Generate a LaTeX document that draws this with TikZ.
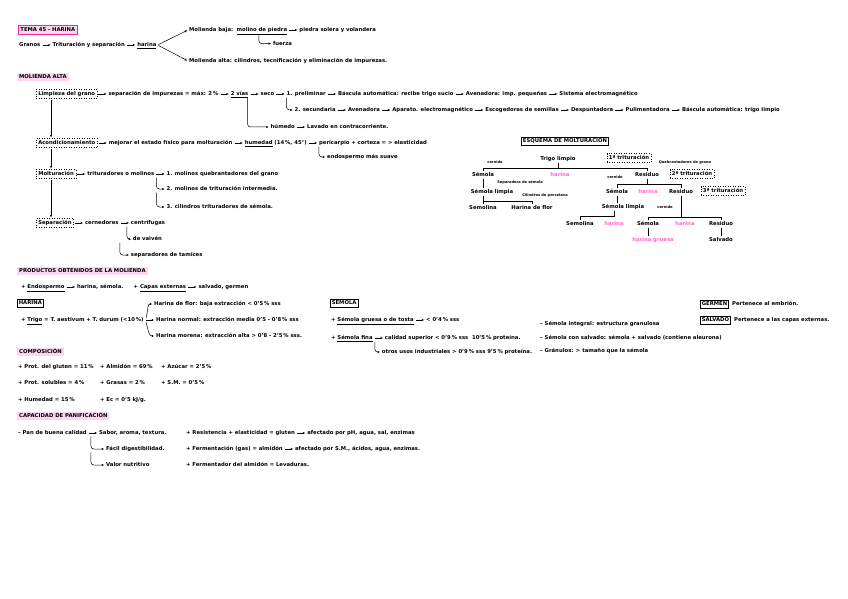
\documentclass[tikz,border=0pt]{standalone}
\usepackage{fontspec}
\setmainfont{DejaVu Sans}
\usetikzlibrary{arrows.meta,positioning,calc}
\definecolor{hlpink}{RGB}{252,214,238}
\definecolor{rimpink}{RGB}{238,40,160}
\definecolor{flour}{RGB}{255,105,200}

\begin{document}
\begin{tikzpicture}[x=1pt,y=-1pt,>=Stealth,node distance=10pt,
  txt/.style={font=\fontsize{5.3}{6}\selectfont\bfseries,inner sep=1pt,
              text height=3.9pt,text depth=1pt,anchor=west},
  cell/.style={txt,anchor=center},
  flourtxt/.style={cell,text=flour},
  tiny/.style={font=\fontsize{3.6}{4}\selectfont\bfseries,inner sep=0.5pt},
  head/.style={txt,fill=hlpink,inner sep=2pt},
  title/.style={head,draw=rimpink,line width=0.8pt},
  stagebox/.style={txt,draw,dotted,line width=0.5pt,inner sep=2pt},
  tagbox/.style={txt,draw,line width=0.6pt,inner sep=1.5pt},
  arr/.style={->,line width=0.5pt,shorten >=1pt,shorten <=1pt,
              >={Stealth[length=2.5pt,width=2.2pt]}},
  hook/.style={arr,shorten <=0pt,rounded corners=3pt},
  link/.style={line width=0.6pt}]
  \fill[white] (0,0) rectangle (848,599);
  \useasboundingbox (0,0) rectangle (848,599);

  % tema
  \node[title] (tema) at (18,30) {TEMA 45 - HARINA};
  \node[txt] (granos) at (18,45) {Granos};
  \node[txt,right=of granos] (trit) {Trituración y separación};
  \node[txt,right=of trit] (harina) {\underline{harina}};
  \node[txt] (mbaja) at (188,30) {Molienda baja:};
  \node[txt,right=1pt of mbaja] (mpiedra) {\underline{molino de piedra}};
  \node[txt,right=of mpiedra] (solera) {piedra solera y volandera};
  \node[txt] (fuerza) at ($(mpiedra.south)+(10,10)$) {fuerza};
  \node[txt] (malta) at (188,61) {Molienda alta: cilindros, tecnificación y eliminación de impurezas.};
  \draw[arr] (granos) -- (trit);
  \draw[arr] (trit) -- (harina);
  \draw[arr] (harina.east) -- (mbaja.west);
  \draw[arr] (harina.east) -- (malta.west);
  \draw[arr] (mpiedra) -- (solera);
  \draw[hook] ($(mpiedra.south)+(-3,0)$) |- (fuerza.west);

  % molienda alta
  \node[head] (malt) at (17,77) {MOLIENDA ALTA};
  \node[stagebox] (limp) at (36,94) {Limpieza del grano};
  \node[txt,right=of limp] (impur) {separación de impurezas = máx: 2\,\%};
  \node[txt,right=of impur] (vias) {\underline{2 vías}};
  \node[txt,right=of vias] (seco) {seco};
  \node[txt,right=of seco] (prel) {1. preliminar};
  \node[txt,right=of prel] (bas1) {Báscula automática: recibe trigo sucio};
  \node[txt,right=of bas1] (aven1) {Avenadora: imp. pequeñas};
  \node[txt,right=of aven1] (elec1) {Sistema electromagnético};
  \foreach \a/\b in {limp/impur,impur/vias,vias/seco,seco/prel,prel/bas1,bas1/aven1,aven1/elec1}
    \draw[arr] (\a) -- (\b);
  \node[txt] (secun) at ($(prel.west)+(8,16)$) {2. secundaria};
  \node[txt,right=of secun] (aven2) {Avenadora};
  \node[txt,right=of aven2] (apar) {Aparato. electromagnético};
  \node[txt,right=of apar] (escog) {Escogedoras de semillas};
  \node[txt,right=of escog] (desp) {Despuntadora};
  \node[txt,right=of desp] (pulim) {Pulimentadora};
  \node[txt,right=of pulim] (bas2) {Báscula automática: trigo limpio};
  \foreach \a/\b in {secun/aven2,aven2/apar,apar/escog,escog/desp,desp/pulim,pulim/bas2}
    \draw[arr] (\a) -- (\b);
  \draw[hook] ($(prel.south west)+(1,0)$) |- (secun.west);
  \node[txt] (humedo) at ($(vias.east)+(20,33)$) {húmedo};
  \node[txt,right=of humedo] (lavado) {Lavado en contracorriente.};
  \draw[arr] (humedo) -- (lavado);
  \draw[hook] ($(vias.south east)+(-2,0)$) |- (humedo.west);

  \node[stagebox] (acond) at (36,143) {Acondicionamiento};
  \node[txt,right=of acond] (mejor) {mejorar el estado físico para molturación};
  \node[txt,right=of mejor] (humed) {\underline{humedad} (14\,\%, 45°)};
  \node[txt,right=of humed] (peri) {pericarpio + corteza = > elasticidad};
  \node[txt] (endo) at ($(peri.west)+(8,14)$) {endospermo más suave};
  \foreach \a/\b in {acond/mejor,mejor/humed,humed/peri}
    \draw[arr] (\a) -- (\b);
  \draw[hook] ($(peri.south west)+(1,0)$) |- (endo.west);

  \node[stagebox] (moltu) at (36,174) {Molturación};
  \node[txt,right=of moltu] (tritu) {trituradores o molinos};
  \node[txt,right=of tritu] (mol1) {1. molinos quebrantadores del grano};
  \node[txt] (mol2) at ($(mol1.west)+(0,15)$) {2. molinos de trituración intermedia.};
  \node[txt] (mol3) at ($(mol2.west)+(0,18)$) {3. cilindros trituradores de sémola.};
  \draw[arr] (moltu) -- (tritu);
  \draw[arr] (tritu) -- (mol1);
  \draw[hook] ($(tritu.south east)+(1,0)$) |- (mol2.west);
  \draw[hook] ($(tritu.south east)+(1,15)$) |- (mol3.west);

  \node[stagebox] (separ) at (36,223) {Separación};
  \node[txt,right=of separ] (cerne) {cernedores};
  \node[txt,right=of cerne] (centr) {centrífugas};
  \node[txt] (vaiven) at ($(centr.west)+(2,16)$) {de vaivén};
  \node[txt] (tamic) at ($(cerne.east)+(10,32)$) {separadores de tamices};
  \draw[arr] (separ) -- (cerne);
  \draw[arr] (cerne) -- (centr);
  \draw[hook] ($(centr.south west)+(-3,0)$) |- (vaiven.west);
  \draw[hook] ($(vaiven.south west)+(-12,0)$) |- (tamic.west);

  \draw[arr] ($(limp.south west)+(15,0)$) -- ($(acond.north west)+(15,0)$);
  \draw[arr] ($(acond.south west)+(15,0)$) -- ($(moltu.north west)+(15,0)$);
  \draw[arr] ($(moltu.south west)+(15,0)$) -- ($(separ.north west)+(15,0)$);

  % esquema de molturacion
  \node[tagbox,anchor=center] (esq) at (565,141) {ESQUEMA DE MOLTURACIÓN};
  \node[cell] (tlimp) at (558,159) {Trigo limpio};
  \node[stagebox,anchor=center] (trit1) at (629,158) {1ª trituración};
  \node[tiny] (cern1) at (495,162) {cernido};
  \node[cell] (sem1) at (483,175) {Sémola};
  \node[flourtxt] (har1) at (560,175) {harina};
  \node[cell] (res1) at (647,175) {Residuo};
  \node[tiny] (quebr) at (685,163) {Quebrantadores de grano};
  \node[stagebox,anchor=center] (trit2) at (692,174) {2ª trituración};
  \node[tiny] (sepse) at (520,182) {Separadora de sémola};
  \node[cell] (seml1) at (492,192) {Sémola limpia};
  \node[tiny] (cilin) at (545,196) {Cilindros de porcelana};
  \node[cell] (semo1) at (483,208) {Semolina};
  \node[cell] (hflor) at (532,208) {Harina de flor};
  \node[tiny] (cern2) at (615,177) {cernido};
  \node[cell] (sem2) at (617,192) {Sémola};
  \node[flourtxt] (har2) at (648,192) {harina};
  \node[cell] (res2) at (681,192) {Residuo};
  \node[stagebox,anchor=center] (trit3) at (723,191) {3ª trituración};
  \node[cell] (seml2) at (623,207) {Sémola limpia};
  \node[tiny] (cern3) at (665,207) {cernido};
  \node[cell] (semo2) at (580,224) {Semolina};
  \node[flourtxt] (har3) at (614,224) {harina};
  \node[cell] (sem3) at (648,224) {Sémola};
  \node[flourtxt] (har4) at (685,224) {harina};
  \node[cell] (res3) at (721,224) {Residuo};
  \node[flourtxt] (hgru) at (653,240) {harina gruesa};
  \node[cell] (salv) at (721,240) {Salvado};

  \draw[link] (tlimp.south) -- ++(0,6);
  \draw[link] (sem1.north) |- ($(tlimp.south)+(0,6)$) -| (res1.north);
  \draw[link] (sem1.south) -- (sem1.south |- seml1.north);
  \draw[link] (seml1.south -| semo1.north) -- (semo1.north);
  \draw[link] ($(semo1.north)+(0,-3)$) -| (hflor.north);
  \draw[link] (res1.south) -- ++(0,6);
  \draw[link] (sem2.north) |- ($(res1.south)+(0,6)$) -| (res2.north);
  \draw[link] (sem2.south) -- (sem2.south |- seml2.north);
  \draw[link] (seml2.south -| har3.north) -- ++(0,6) -| (semo2.north);
  \draw[link] (res2.south) -- ($(res2.south |- har4.north)+(0,-3)$);
  \draw[link] (sem3.north) |- ($(res2.south |- har4.north)+(0,-3)$) -| (res3.north);
  \draw[link] (sem3.south) -- (sem3.south |- hgru.north);
  \draw[link] (res3.south) -- (salv.north);

  % productos
  \node[head] (prod) at (17,271) {PRODUCTOS OBTENIDOS DE LA MOLIENDA};
  \node[txt] (endosp) at (20,287) {+ \underline{Endospermo}};
  \node[txt,right=of endosp] (harsem) {harina, sémola.};
  \node[txt,right=8pt of harsem] (capas) {+ \underline{Capas externas}};
  \node[txt,right=of capas] (salger) {salvado, germen};
  \draw[arr] (endosp) -- (harsem);
  \draw[arr] (capas) -- (salger);

  \node[tagbox] (hartag) at (17,303) {HARINA};
  \node[txt] (trigo) at (20,320) {+ \underline{Trigo} = T. aestivum + T. durum (<10\,\%)};
  \node[txt] (hflor2) at (153,304) {Harina de flor: baja extracción < 0'5\,\% sss};
  \node[txt] (hnorm) at (155,320) {Harina normal: extracción media 0'5 - 0'8\,\% sss};
  \node[txt] (hmor) at (155,336) {Harina morena: extracción alta > 0'8 - 2'5\,\% sss.};
  \draw[arr] ($(trigo.east)+(1,-1)$) .. controls +(3,-12) and +(-6,0) .. (hflor2.west);
  \draw[arr] (trigo) -- (hnorm);
  \draw[arr] ($(trigo.east)+(1,1)$) .. controls +(3,12) and +(-6,0) .. (hmor.west);

  \node[tagbox] (semtag) at (330,303) {SÉMOLA};
  \node[txt] (sgru) at (330,320) {+ \underline{Sémola gruesa o de tosta}};
  \node[txt,right=of sgru] (sgrusss) {< 0'4\,\% sss};
  \node[txt] (sfina) at (330,338) {+ \underline{Sémola fina}};
  \node[txt,right=of sfina] (calid) {calidad superior < 0'9\,\% sss \ 10'5\,\% proteína.};
  \node[txt] (otros) at ($(sfina.east)+(7,14)$) {otros usos industriales > 0'9\,\% sss 9'5\,\% proteína.};
  \draw[arr] (sgru) -- (sgrusss);
  \draw[arr] (sfina) -- (calid);
  \draw[hook] ($(sfina.south east)+(1,0)$) |- (otros.west);
  \node[txt] (sinteg) at (539,324) {– Sémola integral: estructura granulosa};
  \node[txt] (ssalv) at (539,338) {– Sémola con salvado: sémola + salvado (contiene aleurona)};
  \node[txt] (granu) at (539,351) {– Gránulos: > tamaño que la sémola};
  \node[tagbox] (germtag) at (700,304) {GERMEN};
  \node[txt,right=2pt of germtag] (germtx) {Pertenece al embrión.};
  \node[tagbox] (salvtag) at (700,320) {SALVADO};
  \node[txt,right=2pt of salvtag] (salvtx) {Pertenece a las capas externas.};

  % composicion
  \node[head] (comp) at (17,352) {COMPOSICIÓN};
  \node[txt] (pglu) at (17,367) {+ Prot. del gluten = 11\,\%};
  \node[txt] (almi) at (99,367) {+ Almidón = 69\,\%};
  \node[txt] (azuc) at (160,367) {+ Azúcar = 2'5\,\%};
  \node[txt] (psol) at (17,383) {+ Prot. solubles = 4\,\%};
  \node[txt] (gras) at (99,383) {+ Grasas = 2\,\%};
  \node[txt] (smin) at (160,383) {+ S.M. = 0'5\,\%};
  \node[txt] (hume) at (17,400) {+ Humedad = 15\,\%};
  \node[txt] (ener) at (99,400) {+ Ec = 0'5 kJ/g.};

  % capacidad de panificacion
  \node[head] (capac) at (17,416) {CAPACIDAD DE PANIFICACIÓN};
  \node[txt] (pan) at (17,433) {– Pan de buena calidad};
  \node[txt,right=of pan] (sabor) {Sabor, aroma, textura.};
  \node[txt] (facil) at ($(sabor.west)+(7,16)$) {Fácil digestibilidad.};
  \node[txt] (valor) at ($(sabor.west)+(7,32)$) {Valor nutritivo};
  \draw[arr] (pan) -- (sabor);
  \draw[hook] ($(pan.south east)+(3,0)$) |- (facil.west);
  \draw[hook] ($(pan.south east)+(3,16)$) |- (valor.west);
  \node[txt] (resis) at (185,433) {+ Resistencia + elasticidad = gluten};
  \node[txt,right=of resis] (afect1) {afectado por pH, agua, sal, enzimas};
  \node[txt] (ferme) at (185,449) {+ Fermentación (gas) = almidón};
  \node[txt,right=of ferme] (afect2) {afectado por S.M., ácidos, agua, enzimas.};
  \node[txt] (levad) at (185,465) {+ Fermentador del almidón = Levaduras.};
  \draw[arr] (resis) -- (afect1);
  \draw[arr] (ferme) -- (afect2);
\end{tikzpicture}
\end{document}
